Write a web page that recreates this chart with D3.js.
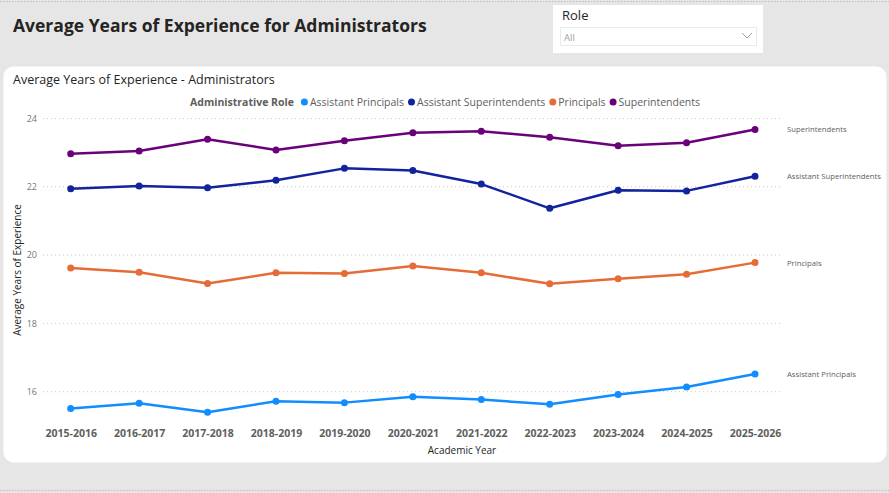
<!DOCTYPE html>
<html><head><meta charset="utf-8">
<script src="https://cdn.jsdelivr.net/npm/d3@7"></script>
<style>
html,body{margin:0;padding:0;background:#e6e6e6;}
svg{display:block;font-family:"Open Sans","Noto Sans",sans-serif;}
</style></head><body>
<svg id="c" width="889" height="493"></svg>
<script>
const years = ["2015-2016","2016-2017","2017-2018","2018-2019","2019-2020","2020-2021","2021-2022","2022-2023","2023-2024","2024-2025","2025-2026"];
const roles = ["Assistant Principals","Assistant Superintendents","Principals","Superintendents"];
const colors = ["#118DFF","#12239E","#E66C37","#6B007B"];
const assistantPrincipals = [15.51,15.66,15.40,15.72,15.68,15.85,15.77,15.63,15.92,16.14,16.52];
const assistantSuperintendents = [21.94,22.02,21.97,22.19,22.54,22.48,22.08,21.37,21.90,21.88,22.31];
const principals = [19.62,19.50,19.17,19.48,19.46,19.68,19.48,19.16,19.31,19.44,19.78];
const superintendents = [22.97,23.05,23.39,23.08,23.35,23.58,23.63,23.45,23.20,23.29,23.68];
const yTicks = [16,18,20,22,24];
const seriesValues = [assistantPrincipals,assistantSuperintendents,principals,superintendents];

const svg = d3.select("#c");
// dotted page borders
svg.append("line").attr("x1",0).attr("x2",889).attr("y1",1.5).attr("y2",1.5)
  .attr("stroke","#bdbdbd").attr("stroke-dasharray","1.5,1.5");
svg.append("line").attr("x1",0).attr("x2",889).attr("y1",490.5).attr("y2",490.5)
  .attr("stroke","#bdbdbd").attr("stroke-dasharray","1.5,1.5");

// page title
svg.append("text").attr("x",13).attr("y",32).text("Average Years of Experience for Administrators")
  .attr("font-size",17.5).attr("font-weight",700).attr("fill","#252423");

// slicer
svg.append("rect").attr("x",553).attr("y",5).attr("width",210).attr("height",48).attr("fill","#fff");
svg.append("text").attr("x",562).attr("y",20).text("Role").attr("font-size",13).attr("fill","#252423");
svg.append("rect").attr("x",560.5).attr("y",27.5).attr("width",196).attr("height",18).attr("fill","#fff").attr("stroke","#eaeaea");
svg.append("text").attr("x",564).attr("y",41).text("All").attr("font-size",9.5).attr("fill","#a0a0a0");
svg.append("path").attr("d","M742,33 L747,38 L752,33").attr("fill","none").attr("stroke","#a0a0a0").attr("stroke-width",1);

// card
svg.append("rect").attr("x",3.5).attr("y",66.5).attr("width",883).attr("height",396).attr("rx",10).attr("fill","#fff");
svg.append("text").attr("x",13).attr("y",84).text("Average Years of Experience - Administrators")
  .attr("font-size",12.5).attr("fill","#252423");

// legend
const lg = svg.append("g").attr("font-size",10.5);
let lx = 190;
const lt = lg.append("text").attr("x",lx).attr("y",106).text("Administrative Role").attr("font-weight",700).attr("fill","#605e5c");
lx += lt.node().getComputedTextLength() + 7;
roles.forEach((r,i)=>{
  lg.append("circle").attr("cx",lx+3.5).attr("cy",102).attr("r",3.5).attr("fill",colors[i]);
  const t = lg.append("text").attr("x",lx+9).attr("y",106).text(r).attr("fill","#605e5c");
  lx += 9 + t.node().getComputedTextLength() + 4;
});

// scales
const x = d3.scalePoint().domain(years).range([70.7,755]);
const y = d3.scaleLinear().domain([16,24]).range([391.7,118.5]);

// gridlines
svg.append("g").selectAll("line").data(yTicks).join("line")
  .attr("x1",43).attr("x2",783).attr("y1",d=>y(d)).attr("y2",d=>y(d))
  .attr("stroke","#c8c8c8").attr("stroke-dasharray","1,3");

// y axis
const ya = svg.append("g").attr("transform","translate(37,0)")
  .call(d3.axisLeft(y).tickValues(yTicks).tickSize(0).tickPadding(0));
ya.select(".domain").remove();
ya.selectAll("text").attr("font-size",9).attr("fill","#777").attr("font-family","'Open Sans',sans-serif");

// x axis
const xa = svg.append("g").attr("transform","translate(0,430)")
  .call(d3.axisBottom(x).tickSize(0).tickPadding(0));
xa.select(".domain").remove();
xa.selectAll("text").attr("font-size",10.5).attr("font-weight",700).attr("fill","#605e5c").attr("font-family","'Open Sans',sans-serif");

svg.append("text").attr("x",462).attr("y",454).attr("text-anchor","middle").text("Academic Year")
  .attr("font-size",10).attr("fill","#252423");
svg.append("text").attr("transform","translate(21,270) rotate(-90)").attr("text-anchor","middle")
  .text("Average Years of Experience").attr("font-size",10).attr("fill","#252423");

// lines
const line = d3.line().x((d,i)=>x(years[i])).y(d=>y(d));
seriesValues.forEach((vals,i)=>{
  svg.append("path").datum(vals).attr("d",line).attr("fill","none").attr("stroke",colors[i]).attr("stroke-width",2.5).attr("stroke-linejoin","round");
  svg.append("g").selectAll("circle").data(vals).join("circle")
    .attr("cx",(d,j)=>x(years[j])).attr("cy",d=>y(d)).attr("r",3.5).attr("fill",colors[i]);
  svg.append("text").attr("x",787).attr("y",y(vals[vals.length-1])+3).text(roles[i])
    .attr("font-size",7.7).attr("fill","#605e5c");
});
</script>
</body></html>
